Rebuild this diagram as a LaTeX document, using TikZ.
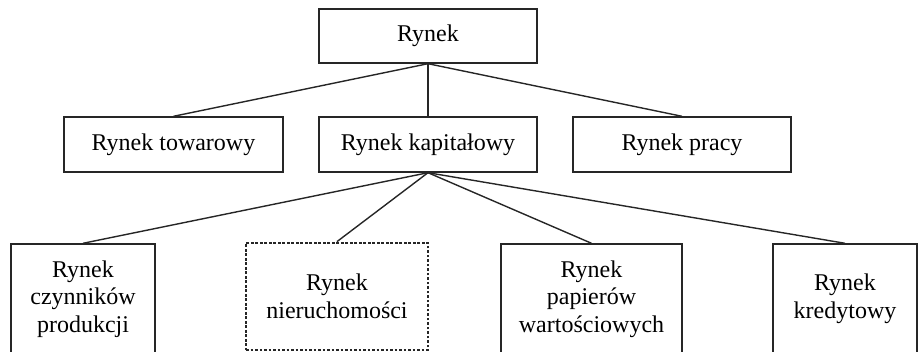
\documentclass[tikz,border=0pt]{standalone}
\usepackage{fontspec}
\setmainfont{Liberation Serif}
\begin{document}
\begin{tikzpicture}[x=1pt,y=-1pt,
  box/.style={draw=black!85, line width=1.4pt, rectangle, inner sep=0pt, align=center,
    font=\fontsize{24}{27.5}\selectfont},
  dotbox/.style={box, line width=2.8pt, dash pattern=on 2.6pt off 1.9pt},
  conn/.style={draw=black!85, line width=1.4pt}]
\useasboundingbox (0,0) rectangle (924,352);
\clip (0,0) rectangle (924,352);
\node[box, minimum width=218pt, minimum height=54pt] (rynek) at (428,36) {Rynek};
\node[box, minimum width=219pt, minimum height=55pt] (tow) at (173.5,144.5) {Rynek towarowy};
\node[box, minimum width=218pt, minimum height=55pt] (kap) at (428,144.5) {Rynek kapitałowy};
\node[box, minimum width=218pt, minimum height=55pt] (pracy) at (682,144.5) {Rynek pracy};
\node[box, minimum width=144pt, minimum height=110pt] (czyn) at (83,299) {Rynek\\czynników\\produkcji};
\node[dotbox, minimum width=182pt, minimum height=107pt] (nier) at (337,296.5) {Rynek\\nieruchomości};
\node[box, minimum width=181pt, minimum height=110pt] (pap) at (591.5,299) {Rynek\\papierów\\wartościowych};
\node[box, minimum width=144pt, minimum height=110pt] (kred) at (845,299) {Rynek\\kredytowy};
\draw[conn] (rynek.south) -- (tow.north);
\draw[conn] (rynek.south) -- (kap.north);
\draw[conn] (rynek.south) -- (pracy.north);
\draw[conn] (kap.south) -- (czyn.north);
\draw[conn] (kap.south) -- (nier.north);
\draw[conn] (kap.south) -- (pap.north);
\draw[conn] (kap.south) -- (kred.north);
\end{tikzpicture}
\end{document}
